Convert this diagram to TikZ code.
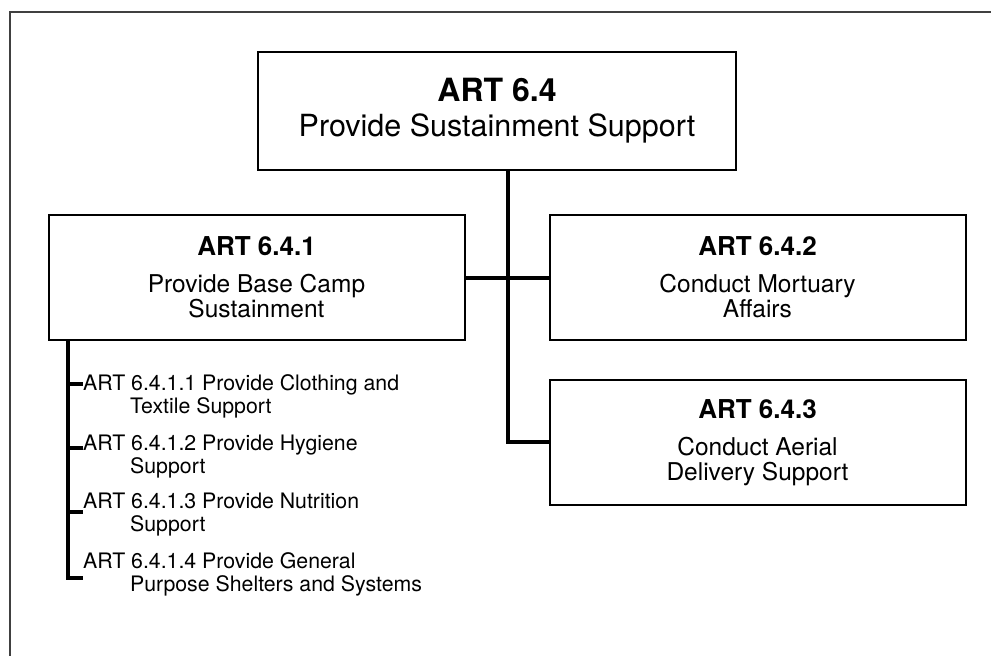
\documentclass[tikz,border=0pt]{standalone}
\usepackage{fontspec}
\setmainfont{TeX Gyre Heros}
\begin{document}
\begin{tikzpicture}[x=1pt,y=-1pt,
  frame/.style={draw=black!75, line width=1.6pt},
  topbox/.style={draw, line width=2.4pt, minimum width=478pt, minimum height=118pt, inner sep=0pt, align=center,
     font=\fontsize{30.5}{35}\selectfont},
  artbox/.style={draw, line width=2pt, minimum width=416pt, minimum height=125pt, inner sep=0pt, align=center,
     font=\fontsize{24.5}{25}\selectfont},
  link/.style={line width=4pt, line cap=butt},
  tick/.style={line width=3.5pt},
  item/.style={anchor=base west, inner sep=0pt, align=left, font=\fontsize{21.3}{23}\selectfont}
]
\useasboundingbox (0,0) rectangle (991,656);
\draw[frame] (10,656) -- (10,12) -- (991,12);

\node[topbox] (top) at (497,111) {{\fontsize{32}{35}\selectfont\bfseries ART 6.4}\\[0pt]Provide Sustainment Support};
\node[artbox] (b1) at (256.5,277.5) {{\fontsize{26}{25}\selectfont\bfseries ART 6.4.1}\\[12pt]Provide Base Camp\\Sustainment};
\node[artbox] (b2) at (757.5,277.5) {{\fontsize{26}{25}\selectfont\bfseries ART 6.4.2}\\[12pt]Conduct Mortuary\\Affairs};
\node[artbox] (b3) at (757.5,442.5) {{\fontsize{26}{25}\selectfont\bfseries ART 6.4.3}\\[12pt]Conduct Aerial\\Delivery Support};

\coordinate (j1) at (508,278);
\coordinate (j3) at (508,442);
\draw[link] (top.south -| j1) -- (j3) -- (j3 -| b3.west);
\draw[link] (b1.east |- j1) -- (b2.west |- j1);

\node[item] (i1) at (83,413) {ART 6.4.1.1 Provide Clothing and\\\hspace*{47pt}Textile Support};
\node[item] (i2) at (83,473) {ART 6.4.1.2 Provide Hygiene\\\hspace*{47pt}Support};
\node[item] (i3) at (83,531) {ART 6.4.1.3 Provide Nutrition\\\hspace*{47pt}Support};
\node[item] (i4) at (83,591) {ART 6.4.1.4 Provide General\\\hspace*{47pt}Purpose Shelters and Systems};

\coordinate (lst) at (68,580);
\draw[link] (b1.south -| lst) -- (lst);
\draw[tick] (68,384) -- (83,384);
\draw[tick] (68,448) -- (83,448);
\draw[tick] (68,512) -- (83,512);
\draw[tick] (66,578) -- (83,578);
\end{tikzpicture}
\end{document}
